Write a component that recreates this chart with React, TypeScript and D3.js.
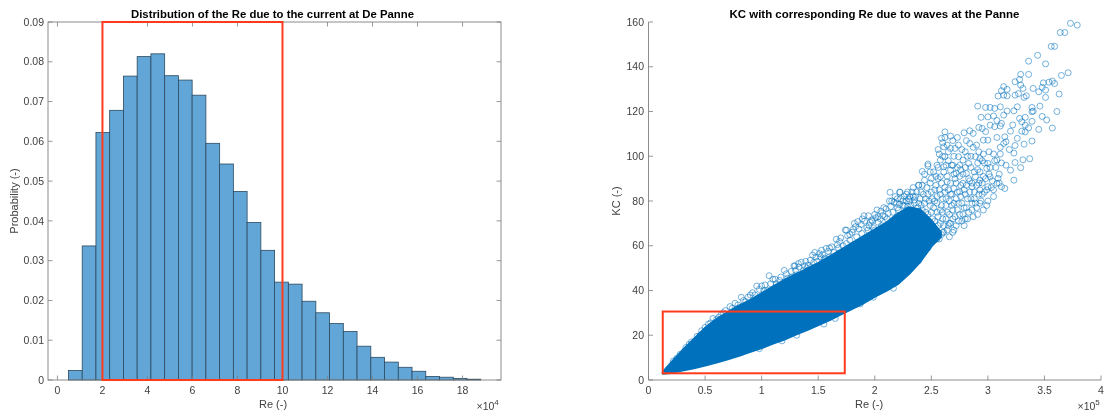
import React from "react";
import * as d3 from "d3";

const histBinStart = 0.489;
const histBinWidth = 0.6107;
const histValues = [0.0024,0.0337,0.0622,0.0678,0.0764,0.0813,0.082,0.0765,0.0754,0.0716,0.0595,0.0543,0.0474,0.0396,0.0326,0.0246,0.0241,0.0198,0.0169,0.0142,0.0122,0.0085,0.0057,0.0045,0.0032,0.0022,0.0009,0.0007,0.0004,0.0002];
const histXTicks = [0,2,4,6,8,10,12,14,16,18];
const histYTicks = [0,0.01,0.02,0.03,0.04,0.05,0.06,0.07,0.08,0.09];
const histBox = [2,10,0,0.09];

const coreRe = [.13,.2,.3,.4,.5,.6,.7,.8,.9,1,1.1,1.2,1.3,1.4,1.5,1.6,1.7,1.8,1.9,2,2.1,2.2,2.3,2.4,2.5,2.58];
const coreUpper = [3.5,7.5,13,18,23,27,30,33,35.5,38.5,41.5,44.5,47,49.5,52,55,58,61,64,67,70,74,77,76,71,66];
const coreLower = [3,3.3,4.4,5.5,6.7,8,9.5,11,12.8,14.5,16.5,18.3,20.5,22.5,24.7,27,29.5,32,34.5,37.5,40,43,47.5,53,60,64];

const scatterOuter: [number,number][] = [
[3.73,159.4],[3.79,158.6],[3.64,155.3],[3.68,155.3],[3.56,149.1],[3.59,149.1],[3.44,145.1],[3.36,142.5],[3.51,141.3],[3.71,137.3],[3.65,136.1],[3.29,136.6],[3.36,136.6],[3.28,134.3],[3.24,133.3],[3.29,131.8],[3.31,130.3],[3.4,130.3],[3.45,128.8],[3.48,130.8],[3.51,129.6],[3.49,132.8],[3.54,133.1],[3.57,133.6],[3.59,132.5],[3.63,127.8],[3.51,126.3],[3.34,127],[3.32,126.3],[3.24,127.3],[3.27,128],[3.14,131.1],[3.12,129.3],[3.17,129.9],[3.09,126.9],[3.17,127],[3.14,127.3],[2.91,122.4],[2.98,121.8],[3.02,121.8],[3.06,121.4],[3.11,122.1],[3.17,120.2],[3.26,122.1],[3.23,120.3],[3.39,121.8],[3.4,120.2],[3.39,119.9],[3.46,122.4],[3.61,120],[3.48,117.8],[3.52,116.2],[3.57,112.6],[3.39,115.6],[3.28,116.9],[3.33,117.4],[3.3,115.4],[3.33,113.9],[3.36,112.7],[3.3,111.2],[3.33,110.9],[3.39,106.8],[3.32,105.4],[3.24,104.8],[3.23,101.4],[3.37,98.9],[3.31,98.4],[3.24,97.2],[3.29,94.9],[3.2,93.8],[3.23,89.3],[2.94,117.4],[3,117.6],[3.05,118],[3.14,118.4],[3.12,114.7],[2.92,112.9],[2.95,112.4],[3.02,113.9],[3.06,113.2],[3.11,113.5],[3.2,111.2],[2.62,110.9],[2.62,108.4],[2.6,106],[2.61,104.2],[2.73,108.4],[2.79,110.5],[2.84,111.4],[2.87,110.2],[2.71,103.5],[2.67,103.5],[2.47,96.5],[2.47,95.7],[2.42,93.2],[2.84,105.7],[2.9,105],[2.96,107.2],[3,107.2],[3.08,108.4],[3.15,108.7],[3.14,105.7],[3.16,106.5],[3.11,101],[3.05,101],[3.08,98.3],[3.16,96],[3,96.8],[2.99,94.6],[2.93,99],[2.89,99.8],[2.83,96.8],[2.78,98.3],[2.74,99.8],[2.58,98.3],[2.62,99.8],[2.55,96],[2.61,95.3],[2.67,93.8],[2.72,92.3],[2.81,92.3],[2.89,90.8],[2.93,89.3],[3.02,90.8],[3.09,90.1],[3.12,86.4],[3.15,85.6],[3.08,87.9],[3,86.4],[2.93,84.9],[2.86,86.4],[2.78,87.9],[2.39,87.1],[2.44,89.3],[2.5,90.1],[2.58,90.8],[2.64,88.6],[2.7,85.6],[2.75,84.1]
];
const scatterMiddle: [number,number][] = [
[2.26,78],[2.29,84],[2.31,80],[2.33,76],[2.34,86],[2.36,82],[2.37,74],[2.38,70],[2.39,79],[2.41,84],[2.42,76],[2.43,71],[2.44,66],[2.45,81],[2.46,86],[2.47,74],[2.48,69],[2.49,78],[2.5,84],[2.51,72],[2.52,65],[2.53,80],[2.54,87],[2.55,75],[2.56,69],[2.57,63],[2.58,83],[2.59,78],[2.6,72],[2.61,66],[2.62,86],[2.63,81],[2.64,75],[2.65,69],[2.66,64],[2.67,83],[2.68,78],[2.69,72],[2.7,67],[2.71,90],[2.72,81],[2.73,76],[2.74,71],[2.76,87],[2.77,79],[2.78,74],[2.79,69],[2.8,83],[2.81,77],[2.82,72],[2.84,89],[2.85,81],[2.86,76],[2.88,84],[2.89,79],[2.91,74],[2.92,88],[2.94,80],[2.96,91],[2.97,84],[2.99,78],[3.01,92],[3.03,86],[3.05,82],[3.07,95],[3.1,92],[3.12,97],[2.52,93],[2.57,101],[2.65,98],[2.69,96],[2.76,94],[2.85,100],[2.91,94],[2.96,101],[2.69,107],[2.77,103],[2.81,107],[2.98,111],[3.08,116],[3.19,103],[3.22,114],[3.26,108],[3.45,112],
[1.98,71],[2.0,67],[2.03,73],[2.06,69],[2.08,77],[2.11,72],[2.13,80],[2.16,75],[2.18,82],[2.21,76],[2.23,81],[2.24,73],[2.28,69]
];
const scatterDense: [number,number][] = [
[2.3,81],[2.32,78],[2.34,82],[2.35,79],[2.37,84],[2.38,77],[2.4,81],[2.41,78],[2.42,87],[2.43,83],[2.44,79],[2.45,75],[2.46,72],[2.47,83],[2.48,80],[2.49,88],[2.5,75],[2.5,69],[2.51,81],[2.52,77],[2.53,85],[2.53,71],[2.54,67],[2.55,82],[2.55,79],[2.56,90],[2.56,73],[2.57,85],[2.58,76],[2.58,70],[2.59,88],[2.59,65],[2.6,81],[2.6,75],[2.61,93],[2.61,69],[2.62,84],[2.63,78],[2.63,72],[2.64,91],[2.64,67],[2.65,85],[2.66,80],[2.66,74],[2.67,88],[2.67,70],[2.68,96],[2.68,83],[2.69,76],[2.69,66],[2.7,92],[2.7,79],[2.71,73],[2.72,88],[2.72,69],[2.73,95],[2.73,84],[2.74,79],[2.75,91],[2.75,74],[2.76,82],[2.77,71],[2.78,92],[2.79,85],[2.79,77],[2.8,95],[2.8,72],[2.81,87],[2.82,81],[2.83,90],[2.83,75],[2.84,84],[2.85,95],[2.86,88],[2.86,79],[2.87,73],[2.88,93],[2.88,81],[2.9,87],[2.9,77],[2.91,97],[2.92,83],[2.93,93],[2.93,79],[2.95,88],[2.95,83],[2.96,76],[2.97,97],[2.98,90],[2.99,85],[3.0,80],[3.01,102],[3.02,95],[3.04,89],[3.05,85],[3.06,98],[3.1,88],[3.11,104],[2.2,77],[2.22,84],[2.25,80],[2.27,75],[2.28,83],[2.44,92],[2.49,93],[2.54,91],[2.56,95],[2.6,100],[2.63,96],[2.65,102],[2.7,100],[2.74,105],[2.75,96],[2.8,102],[2.82,100],[2.87,104],[2.92,102],[2.95,98],[2.56,103],[2.59,108],[2.64,105],[2.67,109]
];
const scatterBand: [number,number][] = [
[1.3,49],[1.33,50.5],[1.38,51],[1.4,50],[1.43,53.5],[1.46,52.5],[1.48,55],[1.51,56.5],[1.54,56],[1.56,54.5],[1.59,57.5],[1.62,59.5],[1.64,57],[1.67,60.5],[1.7,63.5],[1.72,60],[1.76,64.5],[1.78,62.5],[1.8,66],[1.83,68.5],[1.86,67.5],[1.88,69.5],[1.91,71],[1.94,67],[1.96,70.5],[2.01,72.5],[2.03,70.5],[2.07,73.5],[2.1,76.5],[2.12,74.5],[2.14,77.5],[2.17,79.5],[2.2,81],[2.22,78.5],[2.26,82],[2.29,77.5],[2.33,84],[2.35,80.5],[1.02,40],[1.08,43],[1.12,45],[1.16,44.5],[1.22,47.5],[1.27,46],[.74,32],[.79,33.5],[.84,35.5],[.88,37],[.92,39],[.98,40.5],[.47,22],[.5,23.5],[.55,25.5],[.62,28],[.66,30],[.33,14.5],[.36,16],[.43,19.5],[.28,11.5],[.22,8.5],[1.75,67],[1.78,65],[1.82,70],[1.89,72],[1.95,69],[2.0,74],[2.02,76],[2.05,72],[1.68,59],[1.6,59],[1.52,55],[1.44,50.5],[1.47,57],[1.39,53]
];
const scatterUpperFringe: [number,number][] = [
[.25,9.7],[.38,17],[.41,17.5],[.456,20],[.53,25],[.57,27.5],[.64,29],[.72,32.8],[.765,34.3],[.82,37],[.9,38],[.957,42],[1,42],[1.03,42.5],[1.066,46.6],[1.1,45],[1.2,49],[1.295,51],[1.325,52],[1.286,51],[1.35,52.6],[1.41,51.4],[1.45,55.8],[1.53,58],[1.57,58.8],[1.66,62.9],[1.69,61.9],[1.74,67],[1.81,67.3],[1.85,70.8],[1.905,73.4],[1.944,73.4],[1.973,71.5],[2.055,75.5],[2.135,83.9],[2.224,83.9],[2.15,80],[2.386,87],[2.31,82],[1.6,55],[1.75,61],[1.84,64],[1.885,65.5],[1.93,68],[1.99,68],[2.09,73],[2.19,79],[2.25,78],[2.28,80],[1.55,54],[1.49,53],[1.37,49],[1.31,47],[.86,35],[.94,38],[1.05,40],[1.13,43],[1.17,46],[1.23,45.5],[1.26,48.5],[.68,31],[.6,27]
];
const scatterLowerFringe: [number,number][] = [
[2.165,41],[2.194,44.7],[2.076,41.7],[1.988,37],[1.87,34],[1.79,33],[2.297,49.5],[2.386,53.3],[2.365,56.9],[1.65,27.5],[1.55,25],[1.31,20],[1.18,17.5],[.98,14],[2.42,58],[2.47,59],[2.5,62],[2.55,63],[2.6,66],[2.66,70]
];
const reXTicks = [0,0.5,1,1.5,2,2.5,3,3.5,4];
const reYTicks = [0,20,40,60,80,100,120,140,160];
const reBox = [0.126,1.735,3,30.6];

const FONT = "'Liberation Sans', Arial, sans-serif";
const AXIS = "#7f7f7f";
const TICK_TEXT = "#3f3f3f";
const RED = "#ff3b1f";

const histX = d3.scaleLinear().domain([-0.42, 19.71]).range([48, 501]);
const histY = d3.scaleLinear().domain([0, 0.09]).range([380, 22]);
const scX = d3.scaleLinear().domain([0, 4]).range([648.5, 1101]);
const scY = d3.scaleLinear().domain([0, 160]).range([380, 22]);

const coreArea = d3.area<number>()
  .x((d) => scX(d))
  .y0((_, i) => scY(coreLower[i]))
  .y1((_, i) => scY(coreUpper[i]));

const allPoints = [...scatterOuter, ...scatterMiddle, ...scatterDense, ...scatterBand, ...scatterUpperFringe, ...scatterLowerFringe];

const Txt = (p: any) => <text fontFamily={FONT} {...p} />;

export default function App() {
  return (
    <svg width={1107} height={414} style={{ position: "absolute", left: 0, top: 0, background: "#fff" }}>
      <defs>
        <filter id="soft" x="0" y="0" width="100%" height="100%">
          <feGaussianBlur stdDeviation="0.35" />
        </filter>
      </defs>
      <g filter="url(#soft)">
        {histValues.map((v, i) => {
          const x0 = histX(histBinStart + i * histBinWidth);
          const x1 = histX(histBinStart + (i + 1) * histBinWidth);
          return (
            <rect key={i} x={x0} y={histY(v)} width={x1 - x0} height={histY(0) - histY(v)}
              fill="#62a6d7" stroke="#2c4a60" strokeWidth={0.8} />
          );
        })}
        <rect x={48} y={22} width={453} height={358} fill="none" stroke={AXIS} strokeWidth={0.9} />
        {histXTicks.map((t) => (
          <g key={t}>
            <line x1={histX(t)} x2={histX(t)} y1={380} y2={375.5} stroke={AXIS} strokeWidth={0.8} />
            <line x1={histX(t)} x2={histX(t)} y1={22} y2={26.5} stroke={AXIS} strokeWidth={0.8} />
            <Txt x={histX(t)} y={394} fontSize={10.5} textAnchor="middle" fill={TICK_TEXT}>{t}</Txt>
          </g>
        ))}
        {histYTicks.map((t) => (
          <g key={t}>
            <line x1={48} x2={52.5} y1={histY(t)} y2={histY(t)} stroke={AXIS} strokeWidth={0.8} />
            <line x1={501} x2={496.5} y1={histY(t)} y2={histY(t)} stroke={AXIS} strokeWidth={0.8} />
            <Txt x={44} y={histY(t) + 3.7} fontSize={10.5} textAnchor="end" fill={TICK_TEXT}>{t}</Txt>
          </g>
        ))}
        <rect x={histX(histBox[0])} y={histY(histBox[3])} width={histX(histBox[1]) - histX(histBox[0])}
          height={histY(histBox[2]) - histY(histBox[3])} fill="none" stroke={RED} strokeWidth={2} />
        <Txt x={272.5} y={18} fontSize={11.35} fontWeight="bold" textAnchor="middle" fill="#000">Distribution of the Re due to the current at De Panne</Txt>
        <Txt x={273} y={408} fontSize={11} textAnchor="middle" fill={TICK_TEXT}>Re (-)</Txt>
        <Txt x={18} y={201} fontSize={11} textAnchor="middle" fill={TICK_TEXT} transform="rotate(-90 18 201)">Probability (-)</Txt>
        <Txt x={476.5} y={410} fontSize={10.5} fill={TICK_TEXT}>×10<tspan fontSize={8} dy={-5}>4</tspan></Txt>

        <path d={coreArea(coreRe) ?? ""} fill="#0072bd" stroke="#0072bd" strokeWidth={3} strokeLinejoin="round" />
        {allPoints.map(([re, kc], i) => (
          <circle key={i} cx={scX(re)} cy={scY(kc)} r={3} fill="none" stroke="#0072bd" strokeWidth={0.8} strokeOpacity={0.68} />
        ))}
        <line x1={648.5} x2={648.5} y1={22} y2={380} stroke={AXIS} strokeWidth={0.9} />
        <line x1={648.5} x2={1101} y1={380} y2={380} stroke={AXIS} strokeWidth={0.9} />
        {reXTicks.map((t) => (
          <g key={t}>
            <line x1={scX(t)} x2={scX(t)} y1={380} y2={375.5} stroke={AXIS} strokeWidth={0.8} />
            <Txt x={scX(t)} y={394} fontSize={10.5} textAnchor="middle" fill={TICK_TEXT}>{t}</Txt>
          </g>
        ))}
        {reYTicks.map((t) => (
          <g key={t}>
            <line x1={648.5} x2={653} y1={scY(t)} y2={scY(t)} stroke={AXIS} strokeWidth={0.8} />
            <Txt x={644} y={scY(t) + 3.7} fontSize={10.5} textAnchor="end" fill={TICK_TEXT}>{t}</Txt>
          </g>
        ))}
        <rect x={scX(reBox[0])} y={scY(reBox[3])} width={scX(reBox[1]) - scX(reBox[0])}
          height={scY(reBox[2]) - scY(reBox[3])} fill="none" stroke={RED} strokeWidth={2} />
        <Txt x={874.5} y={18} fontSize={11.45} fontWeight="bold" textAnchor="middle" fill="#000">KC with corresponding Re due to waves at the Panne</Txt>
        <Txt x={869} y={408} fontSize={11} textAnchor="middle" fill={TICK_TEXT}>Re (-)</Txt>
        <Txt x={620} y={201} fontSize={11} textAnchor="middle" fill={TICK_TEXT} transform="rotate(-90 620 201)">KC (-)</Txt>
        <Txt x={1077.5} y={410} fontSize={10.5} fill={TICK_TEXT}>×10<tspan fontSize={8} dy={-5}>5</tspan></Txt>
      </g>
    </svg>
  );
}
